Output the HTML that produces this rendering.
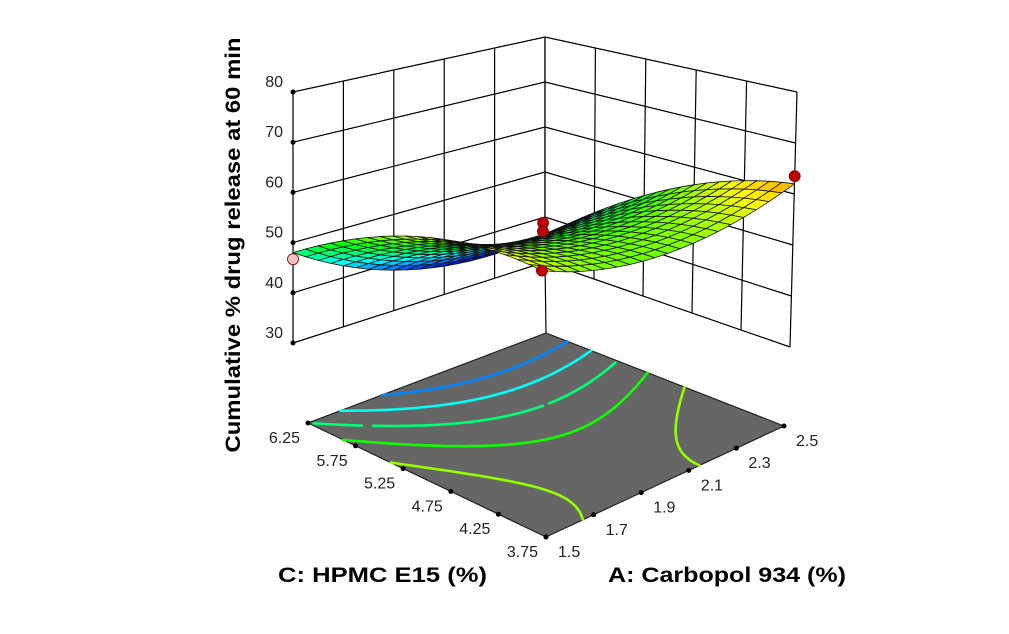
<!DOCTYPE html>
<html><head><meta charset="utf-8">
<style>
html,body{margin:0;padding:0;background:#fff;}
svg{display:block;font-family:"Liberation Sans",sans-serif;}
</style></head>
<body>
<svg id="chart" width="1009" height="634" viewBox="0 0 1009 634" xmlns="http://www.w3.org/2000/svg">
<g id="walls"></g>
<g id="floor"></g>
<g id="surface"></g>
<g id="points"></g>
<g id="labels"></g>
<text x="0" y="0" transform="translate(240,245) rotate(-90)" text-anchor="middle" font-size="21" font-weight="bold" textLength="415" lengthAdjust="spacingAndGlyphs">Cumulative % drug release at 60 min</text>
<text x="278" y="582" font-size="21" font-weight="bold" textLength="209" lengthAdjust="spacingAndGlyphs">C: HPMC E15 (%)</text>
<text x="608" y="582" font-size="21" font-weight="bold" textLength="238" lengthAdjust="spacingAndGlyphs">A: Carbopol 934 (%)</text>
</svg>
<script>
// ---- data ----
const aTicks = [1.5, 1.7, 1.9, 2.1, 2.3, 2.5];
const cTicks = [3.75, 4.25, 4.75, 5.25, 5.75, 6.25];
const zTicks = [30, 40, 50, 60, 70, 80];
// model coefficients in coded units: b0, bA, bC, bAC, bAA, bCC
const modelCoef = [51, -2, -9, -4, 5, -5];
const contourLevels = [40, 44, 48, 52, 56];
const pointA = [2.5, 1.5, 1.5, 1.5, 1.5];
const pointC = [3.75, 3.75, 3.75, 3.75, 6.25];
const pointZ = [63.5, 66.5, 65, 58, 46.7];
const pointAbove = [1, 1, 1, 1, 0];

const NS = "http://www.w3.org/2000/svg";
const aMin = 1.5, aMax = 2.5, cMin = 3.75, cMax = 6.25, zLo = 30, zHi = 80;
const colMin = 36, colMax = 67;

function mk(parent, tag, attrs){ const e = document.createElementNS(NS, tag); for (const k in attrs) e.setAttribute(k, attrs[k]); parent.appendChild(e); return e; }
function uOf(a){ return (a - aMin) / (aMax - aMin); }
function vOf(c){ return (c - cMin) / (cMax - cMin); }
function bil(F, R, L, B, u, v){
  return [(1-u)*(1-v)*F[0] + u*(1-v)*R[0] + (1-u)*v*L[0] + u*v*B[0],
          (1-u)*(1-v)*F[1] + u*(1-v)*R[1] + (1-u)*v*L[1] + u*v*B[1]];
}
const topF=[545,147], topR=[797,92], topL=[293,92], topB=[545,37];
const botF=[538,428], botR=[790,347], botL=[293,343], botB=[545,262];
function proj(u, v, z){
  const t = (zHi - z) / (zHi - zLo);
  const p = bil(topF, topR, topL, topB, u, v), q = bil(botF, botR, botL, botB, u, v);
  return [p[0]*(1-t) + q[0]*t, p[1]*(1-t) + q[1]*t];
}
const flF=[546,537], flR=[784,426], flL=[308,423], flB=[546,333];
function projFloor(u, v){ return bil(flF, flR, flL, flB, u, v); }
function model(u, v){
  const x1 = 2*u - 1, x3 = 2*v - 1, b = modelCoef;
  return b[0] + b[1]*x1 + b[2]*x3 + b[3]*x1*x3 + b[4]*x1*x1 + b[5]*x3*x3;
}
function colorOf(z){
  let s = Math.max(0, Math.min(1, (z - colMin) / (colMax - colMin)));
  const stops = [[0,0,255],[0,255,255],[0,255,0],[255,255,0],[255,0,0]];
  const f = s*4, i = Math.min(3, Math.floor(f)), r = f - i;
  const c = stops[i].map((x, k) => Math.round(x + (stops[i+1][k] - x)*r));
  return `rgb(${c[0]},${c[1]},${c[2]})`;
}
function P(a){ return a.map(p => p[0].toFixed(1) + "," + p[1].toFixed(1)).join(" "); }

// ---- walls ----
const walls = document.getElementById('walls');
aTicks.forEach(a => {
  const u = uOf(a), p1 = proj(u,1,zLo), p2 = proj(u,1,zHi);
  const l = mk(walls, 'line', {x1:p1[0], y1:p1[1], x2:p2[0], y2:p2[1], stroke:'#000', 'stroke-width':1.2});
  
  
});
cTicks.forEach(c => {
  const v = vOf(c), p1 = proj(1,v,zLo), p2 = proj(1,v,zHi);
  const l = mk(walls, 'line', {x1:p1[0], y1:p1[1], x2:p2[0], y2:p2[1], stroke:'#000', 'stroke-width':1.2});
  
  
});
zTicks.forEach(z => {
  const pl = proj(0,1,z), pb = proj(1,1,z), pr = proj(1,0,z);
  const l = mk(walls, 'polyline', {points:P([pl,pb,pr]), fill:'none', stroke:'#000', 'stroke-width':1.2});
  
  
  const d = mk(walls, 'circle', {cx:pl[0], cy:pl[1], r:2.5, fill:'#000'});
  
  
});
{ const p1 = proj(1,1,zLo), p2 = projFloor(1,1);
  const l = mk(walls, 'line', {x1:p1[0], y1:p1[1], x2:p2[0], y2:p2[1], stroke:'#000', 'stroke-width':1.2});
  
   }

// ---- floor ----
const floor = document.getElementById('floor');
{ const pg = mk(floor, 'polygon', {points:P([flF,flR,flB,flL]), fill:'#666666', stroke:'#222', 'stroke-width':1.2});
  
   }
const NG = 80;
contourLevels.forEach(L => {
  let d = '';
  for (let i = 0; i < NG; i++) for (let j = 0; j < NG; j++){
    const u0 = i/NG, u1 = (i+1)/NG, v0 = j/NG, v1 = (j+1)/NG;
    const c = [[u0,v0],[u1,v0],[u1,v1],[u0,v1]];
    const val = c.map(p => model(p[0], p[1]));
    const pts = [];
    for (let k = 0; k < 4; k++){
      const a = val[k], b = val[(k+1)%4];
      if ((a - L)*(b - L) < 0){
        const t = (L - a)/(b - a), pa = c[k], pb = c[(k+1)%4];
        pts.push(projFloor(pa[0] + (pb[0]-pa[0])*t, pa[1] + (pb[1]-pa[1])*t));
      }
    }
    for (let k = 0; k + 1 < pts.length; k += 2)
      d += `M${pts[k][0].toFixed(1)},${pts[k][1].toFixed(1)}L${pts[k+1][0].toFixed(1)},${pts[k+1][1].toFixed(1)}`;
  }
  const path = mk(floor, 'path', {d:d, stroke:colorOf(L), 'stroke-width':2.6, fill:'none', 'stroke-linecap':'round'});
  
  
});
cTicks.forEach(c => {
  const p = projFloor(0, vOf(c));
  const d = mk(floor, 'circle', {cx:p[0], cy:p[1], r:2.5, fill:'#000'});
  
  
});
aTicks.forEach(a => {
  const p = projFloor(uOf(a), 0);
  const d = mk(floor, 'circle', {cx:p[0], cy:p[1], r:2.5, fill:'#000'});
  
  
});

// ---- surface ----
const surf = document.getElementById('surface');
const NM = 20, cells = [];
for (let i = 0; i < NM; i++) for (let j = 0; j < NM; j++){
  const u0 = i/NM, u1 = (i+1)/NM, v0 = j/NM, v1 = (j+1)/NM;
  const zc = model((u0+u1)/2, (v0+v1)/2);
  cells.push({depth: u0 + v0, pts: [proj(u0,v0,model(u0,v0)), proj(u1,v0,model(u1,v0)), proj(u1,v1,model(u1,v1)), proj(u0,v1,model(u0,v1))], z: zc});
}
cells.sort((a, b) => b.depth - a.depth);
cells.forEach(cl => {
  const pg = mk(surf, 'polygon', {points:P(cl.pts), fill:colorOf(cl.z), stroke:'#111', 'stroke-width':0.8, 'stroke-linejoin':'round'});
  
  
});

// ---- points ----
const pts = document.getElementById('points');
pointZ.forEach((z, i) => {
  const p = proj(uOf(pointA[i]), vOf(pointC[i]), z);
  const c = mk(pts, 'circle', {cx:p[0], cy:p[1], r:5.5, fill: pointAbove[i] ? '#c00000' : '#f4c0c0', stroke:'#600', 'stroke-width':0.8});
  
  
});

// ---- labels ----
const lab = document.getElementById('labels');
zTicks.forEach(z => {
  const p = proj(0,1,z);
  const t = mk(lab, 'text', {x:p[0]-10, y:p[1]-5, 'text-anchor':'end', 'font-size':16, fill:'#222'});
  t.textContent = String(z);
  
  
});
cTicks.forEach(c => {
  const p = projFloor(0, vOf(c));
  const t = mk(lab, 'text', {x:p[0]-8, y:p[1]+20, 'text-anchor':'end', 'font-size':16, fill:'#222'});
  t.textContent = c.toFixed(2);
  
  
});
aTicks.forEach(a => {
  const p = projFloor(uOf(a), 0);
  const t = mk(lab, 'text', {x:p[0]+12, y:p[1]+20, 'text-anchor':'start', 'font-size':16, fill:'#222'});
  t.textContent = String(a);
  
  
});
</script>
</body></html>
